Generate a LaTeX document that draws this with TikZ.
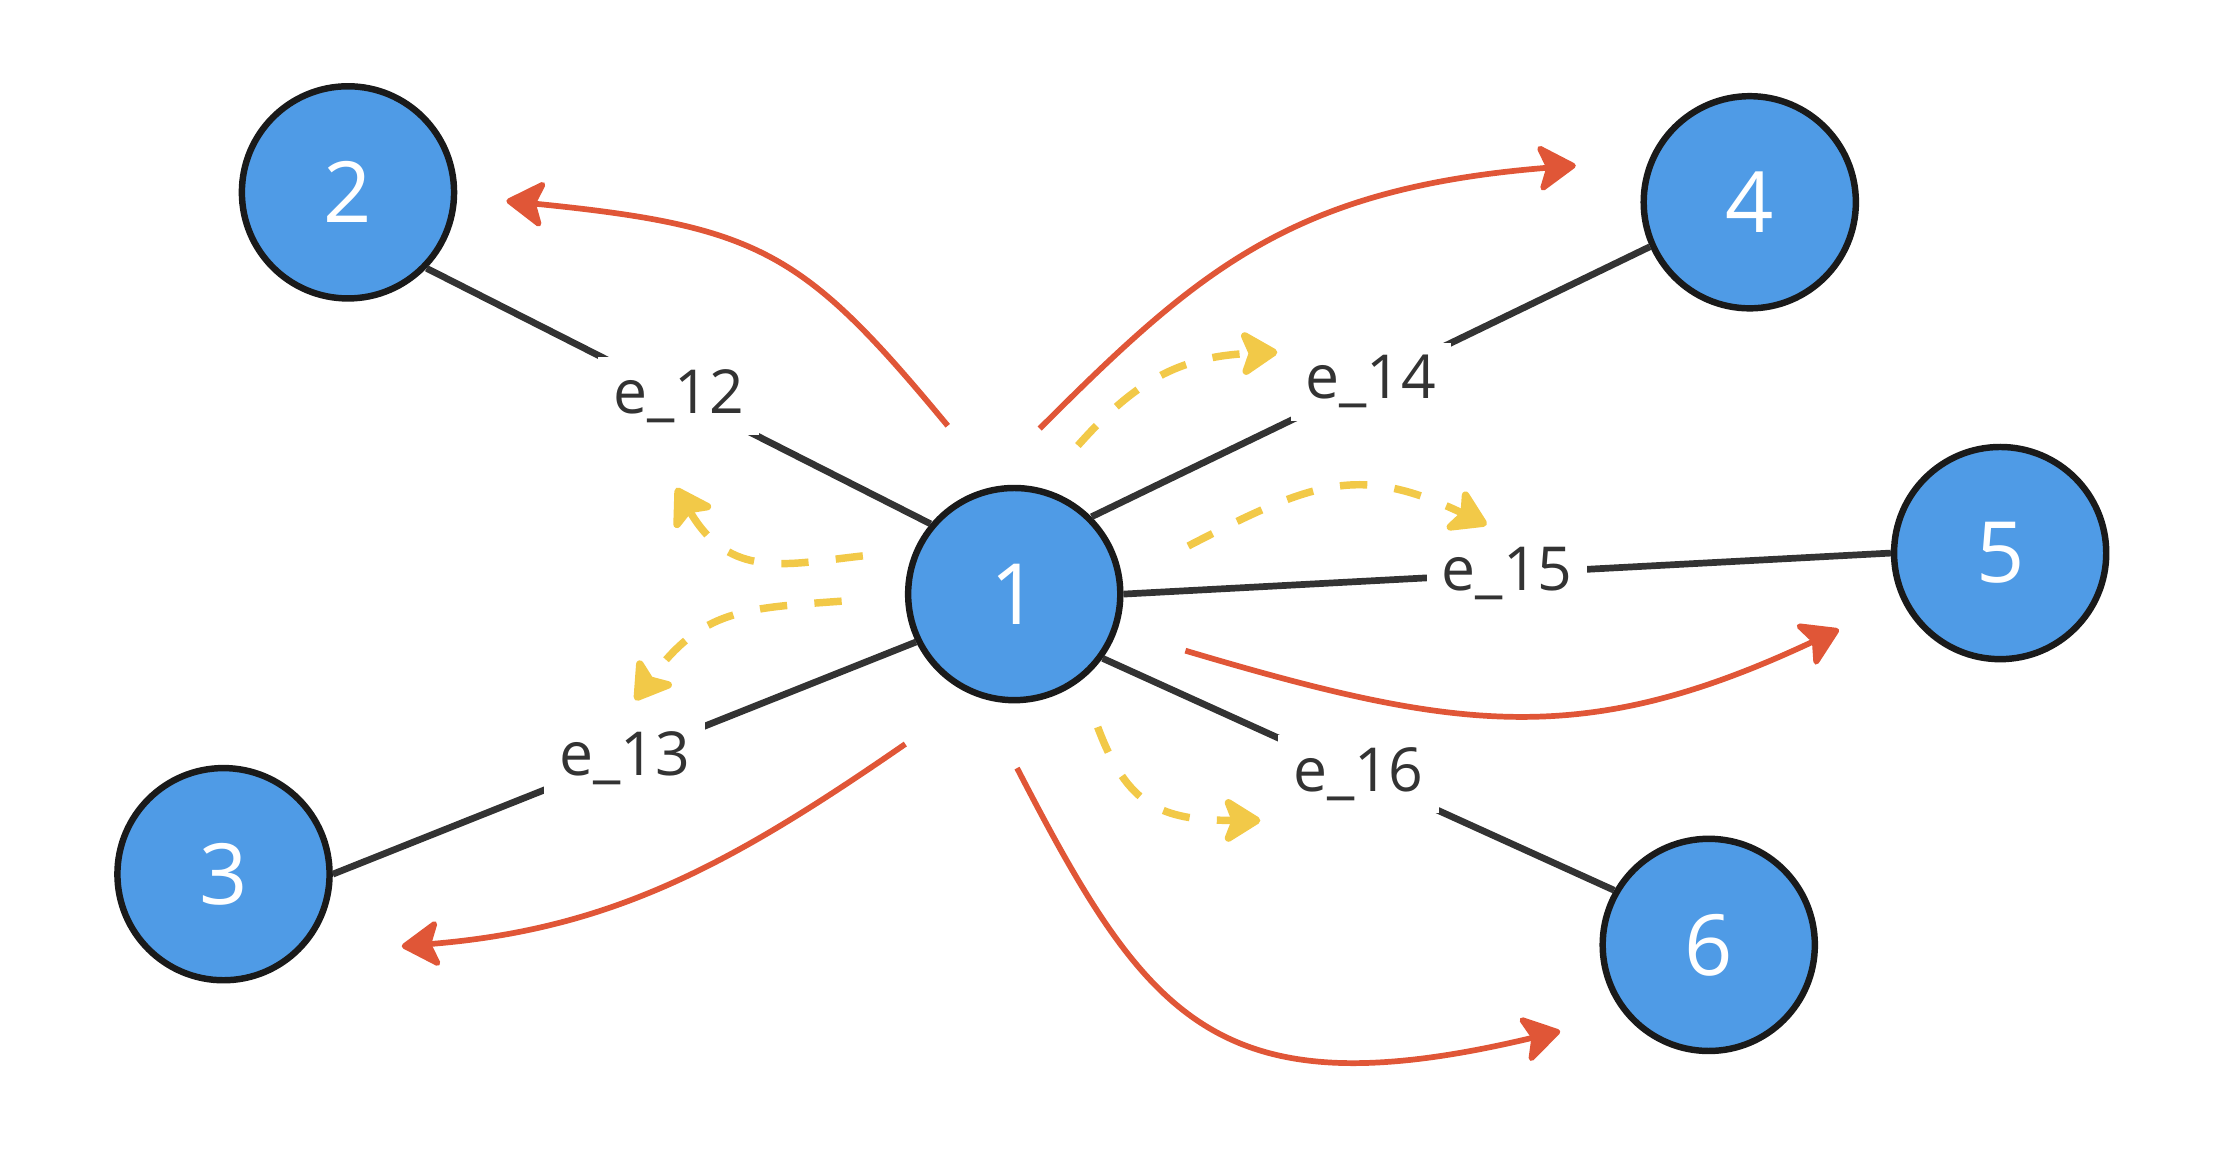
\documentclass[tikz,border=0pt]{standalone}
\usepackage{fontspec}
\setmainfont{Open Sans}
\usepackage{xcolor}
\usepackage{tikz}
\usetikzlibrary{arrows.meta}
\definecolor{nodeblue}{RGB}{79,155,230}
\definecolor{rimgray}{RGB}{26,26,26}
\definecolor{linkgray}{RGB}{51,51,51}
\definecolor{flowred}{RGB}{224,86,55}
\definecolor{msgyellow}{RGB}{242,201,72}
\tikzset{
  vertex/.style={circle,draw=rimgray,fill=nodeblue,line width=1.3pt,
    minimum size=1.5cm,inner sep=0pt,text=white,font=\fontsize{17}{20}\selectfont},
  elabel/.style={fill=white,inner xsep=3pt,inner ysep=2.5pt,text=linkgray,
    font=\fontsize{12.2}{15}\selectfont},
  link/.style={draw=linkgray,line width=1.35pt},
  flow/.style={-{Stealth[length=8.5pt,width=10.5pt,inset=2pt,round]},
    line width=1.15pt,draw=flowred},
  msg/.style={-{Stealth[length=8.5pt,width=10.5pt,inset=2pt,round]},
    line width=1.5pt,draw=msgyellow,dash pattern=on 5.5pt off 5.5pt}
}

\begin{document}
\begin{tikzpicture}[x=0.1mm,y=-0.1mm]
  \useasboundingbox (0,0) rectangle (1568,826);

  \node[vertex] (n1) at (717,420) {1};
  \node[vertex] (n2) at (246,136) {2};
  \node[vertex] (n3) at (158,618) {3};
  \node[vertex] (n4) at (1237,143) {4};
  \node[vertex] (n5) at (1414,391) {5};
  \node[vertex] (n6) at (1208,668) {6};

  \draw[link] (n1.140) -- node[elabel] (l12) {e\_12} (n2.-44);
  \draw[link] (n1.206) -- node[elabel] (l13) {e\_13} (n3.0);
  \draw[link] (n1.45) -- node[elabel] (l14) {e\_14} (n4.204);
  \draw[link] (n1.0) -- node[elabel] (l15) {e\_15} (n5.180);
  \draw[link] (n1.-36) -- node[elabel] (l16) {e\_16} (n6.150);

  \coordinate (r2s) at (670,301);  \coordinate (r2e) at (358,142);
  \coordinate (r3s) at (640,526);  \coordinate (r3e) at (284,669);
  \coordinate (r4s) at (735,303);  \coordinate (r4e) at (1114,117);
  \coordinate (r5s) at (838,460);  \coordinate (r5e) at (1300,445);
  \coordinate (r6s) at (719,543);  \coordinate (r6e) at (1103,729);

  \draw[flow] (r2s) .. controls (568,178) and (538,160) .. (r2e);
  \draw[flow] (r3s) .. controls (517,611) and (433,657) .. (r3e);
  \draw[flow] (r4s) .. controls (848,190) and (914,133) .. (r4e);
  \draw[flow] (r5s) .. controls (1030,517) and (1119,530) .. (r5e);
  \draw[flow] (r6s) .. controls (811,721) and (860,787) .. (r6e);

  \coordinate (y2s) at (610,393);  \coordinate (y2e) at (478,345);
  \coordinate (y3s) at (595,425);  \coordinate (y3e) at (449,495);
  \coordinate (y4s) at (762,315);  \coordinate (y4e) at (903,249);
  \coordinate (y5s) at (840,386);  \coordinate (y5e) at (1051,371);
  \coordinate (y6s) at (776,514);  \coordinate (y6e) at (891,580);

  \draw[msg] (y2s) .. controls (555,399) and (516,410) .. (y2e);
  \draw[msg] (y3s) .. controls (525,430) and (496,431) .. (y3e);
  \draw[msg] (y4s) .. controls (802,270) and (833,252) .. (y4e);
  \draw[msg] (y5s) .. controls (929,340) and (961,328) .. (y5e);
  \draw[msg] (y6s) .. controls (797,570) and (821,580) .. (y6e);
\end{tikzpicture}
\end{document}
